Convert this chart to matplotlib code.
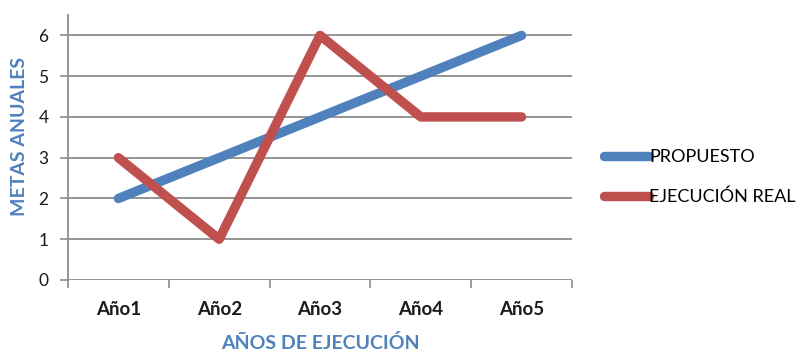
import matplotlib
matplotlib.use("Agg")
import matplotlib.pyplot as plt
from matplotlib.ticker import FixedLocator

# data
years = ["Año1", "Año2", "Año3", "Año4", "Año5"]
propuesto = [2, 3, 4, 5, 6]
ejecucion = [3, 1, 6, 4, 4]
yticks = [0, 1, 2, 3, 4, 5, 6]

blue = "#4F81BD"
red = "#C0504D"
grid = "#8C8C8C"

plt.rcParams["font.family"] = ["Lato", "DejaVu Sans"]

W, H = 804, 352
fig = plt.figure(figsize=(W / 100, H / 100), dpi=100)
ax = fig.add_axes([68 / W, 1 - 280 / H, (572 - 68) / W, (280 - 15) / H])

x = list(range(1, len(years) + 1))
ax.plot(x, propuesto, color=blue, lw=6.8, solid_capstyle="round", label="PROPUESTO", zorder=3)
ax.plot(x, ejecucion, color=red, lw=6.8, solid_capstyle="round", label="EJECUCIÓN REAL", zorder=3)

ax.set_xlim(0.5, len(years) + 0.5)
ax.set_ylim(0, 6.5)
ax.set_yticks(yticks)
ax.set_xticks(x)
ax.set_xticklabels(years, fontsize=13.5, fontweight="bold", color="#1a1a1a")
ax.tick_params(axis="x", which="major", length=0, pad=15)
ax.xaxis.set_minor_locator(FixedLocator([i + 0.5 for i in range(len(years) + 1)]))
ax.tick_params(axis="x", which="minor", length=6, width=1.2, color=grid, direction="out")
ax.tick_params(axis="y", length=6, width=1.2, color=grid, labelsize=12.5, labelcolor="#1a1a1a", pad=8)

for y in yticks:
    ax.axhline(y, color=grid, lw=1.3, zorder=1)

for s in ["top", "right", "bottom"]:
    ax.spines[s].set_visible(False)
ax.spines["left"].set_color(grid)
ax.spines["left"].set_linewidth(1.3)

fig.text(320 / W, 1 - 343 / H, "AÑOS DE EJECUCIÓN", color=blue, fontweight="bold",
         fontsize=14, ha="center", va="center")
fig.text(20 / W, 1 - 136 / H, "METAS ANUALES", color=blue, fontweight="bold",
         fontsize=14, ha="center", va="center", rotation=90)

fig.legend(loc="center left", bbox_to_anchor=(588 / W, 1 - 177 / H), frameon=False,
           fontsize=13, handlelength=2.5, handletextpad=0.0, labelspacing=1.3)

fig.savefig("out.png", dpi=100)
